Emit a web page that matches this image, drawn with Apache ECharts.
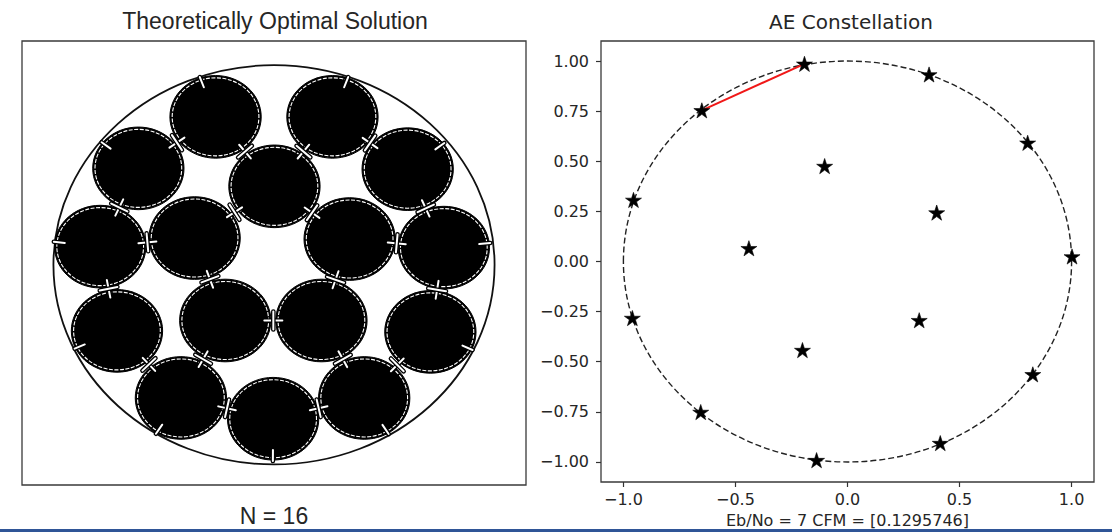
<!DOCTYPE html>
<html>
<head>
<meta charset="utf-8">
<script src="https://cdn.jsdelivr.net/npm/echarts@6/dist/echarts.min.js"></script>
<style>
  html, body { margin: 0; padding: 0; background: #ffffff; }
  #chart { width: 1112px; height: 532px; }
</style>
</head>
<body>
<div id="chart"></div>
<script>
// ---- Left panel: best known packing of 16 equal circles in a unit circle ----
const packingCount = 16;
const diskX = [-0.265, 0.265, -0.615, 0.606, 0.002, -0.788, -0.360, 0.343,
               0.770, -0.712, -0.221, 0.215, 0.709, -0.422, -0.004, 0.409];
const diskY = [0.741, 0.741, 0.483, 0.479, 0.393, 0.091, 0.134, 0.129,
               0.086, -0.331, -0.279, -0.279, -0.336, -0.667, -0.771, -0.667];
const diskRadius = 0.207;
const containerRadius = 1;
// disks that touch each other (indices into diskX / diskY)
const touchingPairs = [[0, 2], [0, 4], [1, 4], [1, 3], [2, 5], [5, 6], [4, 6], [4, 7],
                       [3, 8], [7, 8], [5, 9], [6, 10], [7, 11], [8, 12], [10, 11],
                       [9, 13], [10, 13], [11, 15], [12, 15], [13, 14], [14, 15]];
// disks that touch the container
const rimTouching = [0, 1, 2, 3, 5, 8, 9, 12, 13, 14, 15];

// ---- Right panel: learned autoencoder constellation ----
const starX = [-0.192, 0.364, 0.804, -0.102, -0.955, 0.398, -0.440, 1.002,
               -0.960, 0.320, -0.201, 0.827, -0.655, 0.414, -0.138, -0.650];
const starY = [0.986, 0.933, 0.592, 0.476, 0.307, 0.244, 0.066, 0.025,
               -0.282, -0.293, -0.442, -0.563, -0.751, -0.906, -0.991, 0.754];
const nearestPair = [15, 0];
const unitCircleRadius = 1;
const xTickValues = [-1, -0.5, 0, 0.5, 1];
const yTickValues = [-1, -0.75, -0.5, -0.25, 0, 0.25, 0.5, 0.75, 1];
const ebNo = 7;
const cfm = '0.1295746';

const leftTitle = 'Theoretically Optimal Solution';
const rightTitle = 'AE Constellation';
const countCaption = 'N = ' + packingCount;
const axisCaption = 'Eb/No = ' + ebNo + ' CFM = [' + cfm + ']';

// matplotlib-style tick text with a true minus sign
function tickText(v, digits) {
  const s = Math.abs(v).toFixed(digits);
  return v < 0 ? '\u2212' + s : s;
}

const STAR = 'path://M0,-1L0.2245,-0.309L0.9511,-0.309L0.3633,0.118L0.5878,0.809L0,0.382L-0.5878,0.809L-0.3633,0.118L-0.9511,-0.309L-0.2245,-0.309Z';

function outlinedLine(x1, y1, x2, y2) {
  return [
    { type: 'line', shape: { x1, y1, x2, y2 }, style: { stroke: '#000', lineWidth: 4.6, lineCap: 'round' } },
    { type: 'line', shape: { x1, y1, x2, y2 }, style: { stroke: '#fff', lineWidth: 2, lineCap: 'round' } }
  ];
}

const chart = echarts.init(document.getElementById('chart'), null, { renderer: 'svg' });

const textDark = '#262626';

chart.setOption({
  animation: false,
  backgroundColor: '#ffffff',
  title: [
    { text: leftTitle, left: 275, top: 21, textAlign: 'center', textVerticalAlign: 'middle', padding: 0,
      textStyle: { fontFamily: 'Liberation Sans', fontSize: 23, fontWeight: 'normal', color: textDark } },
    { text: countCaption, left: 274, top: 516, textAlign: 'center', textVerticalAlign: 'middle', padding: 0,
      textStyle: { fontFamily: 'Liberation Sans', fontSize: 23, fontWeight: 'normal', color: textDark } },
    { text: rightTitle, left: 851, top: 22, textAlign: 'center', textVerticalAlign: 'middle', padding: 0,
      textStyle: { fontFamily: 'DejaVu Sans', fontSize: 20, fontWeight: 'normal', color: textDark } }
  ],
  grid: [
    { left: 22, top: 41, width: 504, height: 444, outerBoundsMode: 'none', containLabel: false,
      show: true, borderColor: '#3a3a3a', borderWidth: 1.3, backgroundColor: 'transparent' },
    { left: 601, top: 41, width: 493, height: 441, outerBoundsMode: 'none', containLabel: false,
      show: true, borderColor: '#3a3a3a', borderWidth: 1.3, backgroundColor: 'transparent' }
  ],
  xAxis: [
    { gridIndex: 0, type: 'value', min: -1.1425, max: 1.1425, show: false },
    { gridIndex: 1, type: 'value', min: -1.1, max: 1.1,
      axisLine: { show: false, onZero: false }, splitLine: { show: false },
      axisTick: { show: true, inside: false, length: 5, customValues: xTickValues, lineStyle: { color: '#333', width: 1.2 } },
      axisLabel: { customValues: xTickValues, formatter: v => tickText(v, 1), margin: 9,
                   fontFamily: 'DejaVu Sans', fontSize: 16, color: textDark },
      name: axisCaption, nameLocation: 'middle', nameGap: 30,
      nameTextStyle: { fontFamily: 'DejaVu Sans', fontSize: 16, color: textDark } }
  ],
  yAxis: [
    { gridIndex: 0, type: 'value', min: -1.103, max: 1.121, show: false },
    { gridIndex: 1, type: 'value', min: -1.1, max: 1.1,
      axisLine: { show: false, onZero: false }, splitLine: { show: false },
      axisTick: { show: true, inside: false, length: 5, customValues: yTickValues, lineStyle: { color: '#333', width: 1.2 } },
      axisLabel: { customValues: yTickValues, formatter: v => tickText(v, 2), margin: 12,
                   fontFamily: 'DejaVu Sans', fontSize: 16, color: textDark } }
  ],
  series: [
    // container circle
    { type: 'custom', xAxisIndex: 0, yAxisIndex: 0, silent: true, z: 1,
      data: [[0, 0, containerRadius]],
      renderItem(params, api) {
        const c = api.coord([api.value(0), api.value(1)]);
        const s = api.size([api.value(2), api.value(2)]);
        return { type: 'ellipse', shape: { cx: c[0], cy: c[1], rx: s[0], ry: s[1] },
                 style: { fill: 'none', stroke: '#111', lineWidth: 1.8 } };
      } },
    // packed disks
    { type: 'custom', xAxisIndex: 0, yAxisIndex: 0, silent: true, z: 2,
      data: diskX.map((x, i) => [x, diskY[i]]),
      renderItem(params, api) {
        const c = api.coord([api.value(0), api.value(1)]);
        const s = api.size([diskRadius, diskRadius]);
        return { type: 'group', children: [
          { type: 'ellipse', shape: { cx: c[0], cy: c[1], rx: s[0], ry: s[1] },
            style: { fill: '#000', stroke: '#000', lineWidth: 1 } },
          { type: 'ellipse', shape: { cx: c[0], cy: c[1], rx: s[0] - 2.3, ry: s[1] - 2.3 },
            style: { fill: 'none', stroke: '#fff', lineWidth: 1.1, lineDash: [4, 1.5] } }
        ] };
      } },
    // contact marks between touching disks
    { type: 'custom', xAxisIndex: 0, yAxisIndex: 0, silent: true, z: 3,
      data: touchingPairs.map(p => [(diskX[p[0]] + diskX[p[1]]) / 2, (diskY[p[0]] + diskY[p[1]]) / 2, p[0], p[1]]),
      renderItem(params, api) {
        const a = api.coord([diskX[api.value(2)], diskY[api.value(2)]]);
        const b = api.coord([diskX[api.value(3)], diskY[api.value(3)]]);
        const m = [(a[0] + b[0]) / 2, (a[1] + b[1]) / 2];
        const len = Math.hypot(b[0] - a[0], b[1] - a[1]);
        const u = [(b[0] - a[0]) / len, (b[1] - a[1]) / len];
        const v = [-u[1], u[0]];
        const arm = 9;
        return { type: 'group', children: [].concat(
          outlinedLine(m[0] - arm * u[0], m[1] - arm * u[1], m[0] + arm * u[0], m[1] + arm * u[1]),
          outlinedLine(m[0] - arm * v[0], m[1] - arm * v[1], m[0] + arm * v[0], m[1] + arm * v[1])
        ) };
      } },
    // contact marks where disks meet the container
    { type: 'custom', xAxisIndex: 0, yAxisIndex: 0, silent: true, z: 3,
      data: rimTouching.map(k => [diskX[k], diskY[k], k]),
      renderItem(params, api) {
        const x = api.value(0), y = api.value(1);
        const d = Math.hypot(x, y);
        const c = api.coord([x, y]);
        const p = api.coord([x + diskRadius * x / d, y + diskRadius * y / d]);
        const len = Math.hypot(c[0] - p[0], c[1] - p[1]);
        const w = [(c[0] - p[0]) / len, (c[1] - p[1]) / len];
        return { type: 'group', children: outlinedLine(p[0] - w[0], p[1] - w[1], p[0] + 10 * w[0], p[1] + 10 * w[1]) };
      } },
    // dashed unit circle
    { type: 'custom', xAxisIndex: 1, yAxisIndex: 1, silent: true, z: 1,
      data: [[0, 0, unitCircleRadius]],
      renderItem(params, api) {
        const c = api.coord([api.value(0), api.value(1)]);
        const s = api.size([api.value(2), api.value(2)]);
        return { type: 'ellipse', shape: { cx: c[0], cy: c[1], rx: s[0], ry: s[1] },
                 style: { fill: 'none', stroke: '#222', lineWidth: 1.4, lineDash: [6, 3] } };
      } },
    // closest pair of symbols
    { type: 'line', xAxisIndex: 1, yAxisIndex: 1, silent: true, z: 2,
      symbol: 'none',
      data: nearestPair.map(k => [starX[k], starY[k]]),
      lineStyle: { color: '#f01818', width: 2 } },
    // constellation points
    { type: 'scatter', xAxisIndex: 1, yAxisIndex: 1, silent: true, z: 3,
      symbol: STAR, symbolSize: [16, 15.2],
      data: starX.map((x, i) => [x, starY[i]]),
      itemStyle: { color: '#000', borderColor: '#000', borderWidth: 0.6, opacity: 1 } }
  ],
  graphic: {
    elements: [
      { type: 'rect', z: 100, silent: true, shape: { x: 0, y: 529, width: 1112, height: 3 }, style: { fill: '#2f5597' } }
    ]
  }
});
</script>
</body>
</html>
